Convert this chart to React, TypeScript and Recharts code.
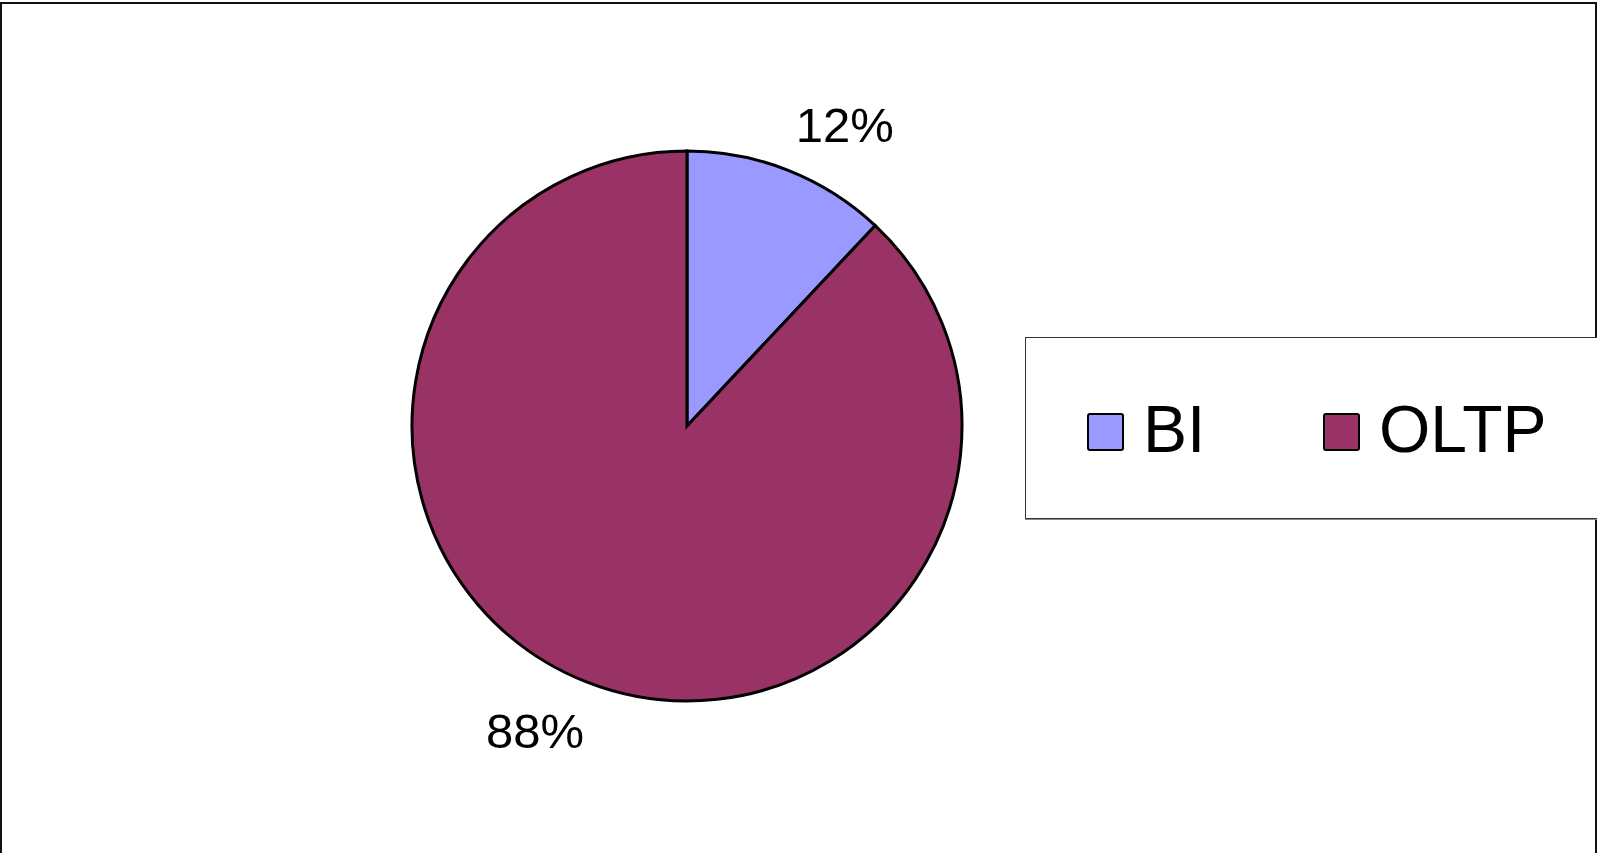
import React from "react";
import { PieChart, Pie, Cell } from "recharts";

// Workload share
const categories = ["BI", "OLTP"];
const shares = [12, 88];
const sliceColors = ["#9999FF", "#993366"];

const data = categories.map((name, i) => ({ name, value: shares[i] }));

const RAD = Math.PI / 180;

// Excel puts the labels a bit clockwise of the slice middle
const renderLabel = (props: any) => {
  const { cx, cy, outerRadius, midAngle, value } = props;
  const ang = midAngle - 5.5;
  const r = outerRadius + 65;
  const x = cx + r * Math.cos(-ang * RAD) + 3;
  const y = cy + r * Math.sin(-ang * RAD) + 2;
  return (
    <text
      x={x}
      y={y}
      textAnchor="middle"
      dominantBaseline="central"
      fill="#000"
      fontSize={49}
      fontFamily="'Liberation Sans', Arial, sans-serif"
    >
      {`${value}%`}
    </text>
  );
};

const LegendBox = () => (
  <div
    style={{
      position: "absolute",
      left: 1025,
      top: 337,
      width: 600,
      height: 180,
      border: "1px solid #333",
      boxShadow: "0 1px 0 #888",
      background: "#fff",
      fontFamily: "'Liberation Sans', Arial, sans-serif",
    }}
  >
    {data.map((d, i) => {
      const left = i === 0 ? 61 : 297;
      return (
        <React.Fragment key={d.name}>
          <div
            style={{
              position: "absolute",
              left,
              top: 75,
              width: 33,
              height: 34,
              background: sliceColors[i],
              border: "2px solid #000",
              borderRadius: 3,
            }}
          />
          <span
            style={{
              position: "absolute",
              left: left + 56,
              top: 58,
              fontSize: 66,
              lineHeight: "66px",
              color: "#000",
              whiteSpace: "nowrap",
            }}
          >
            {d.name}
          </span>
        </React.Fragment>
      );
    })}
  </div>
);

export default function App() {
  return (
    <div
      style={{
        position: "absolute",
        left: 0,
        top: 0,
        width: 1597,
        height: 853,
        overflow: "hidden",
        background: "#fff",
      }}
    >
      <div
        style={{
          position: "absolute",
          left: 0,
          top: 2,
          width: 1593,
          height: 900,
          border: "2px solid #111",
        }}
      />
      <PieChart
        width={1597}
        height={853}
        margin={{ top: 0, right: 0, bottom: 0, left: 0 }}
        style={{ position: "absolute", left: 0, top: 0 }}
      >
        <Pie
          data={data}
          dataKey="value"
          nameKey="name"
          cx={687}
          cy={426}
          outerRadius={275}
          startAngle={90}
          endAngle={-270}
          stroke="#000"
          strokeWidth={3}
          label={renderLabel}
          labelLine={false}
          isAnimationActive={false}
        >
          {data.map((d, i) => (
            <Cell key={d.name} fill={sliceColors[i]} />
          ))}
        </Pie>
      </PieChart>
      <LegendBox />
    </div>
  );
}
